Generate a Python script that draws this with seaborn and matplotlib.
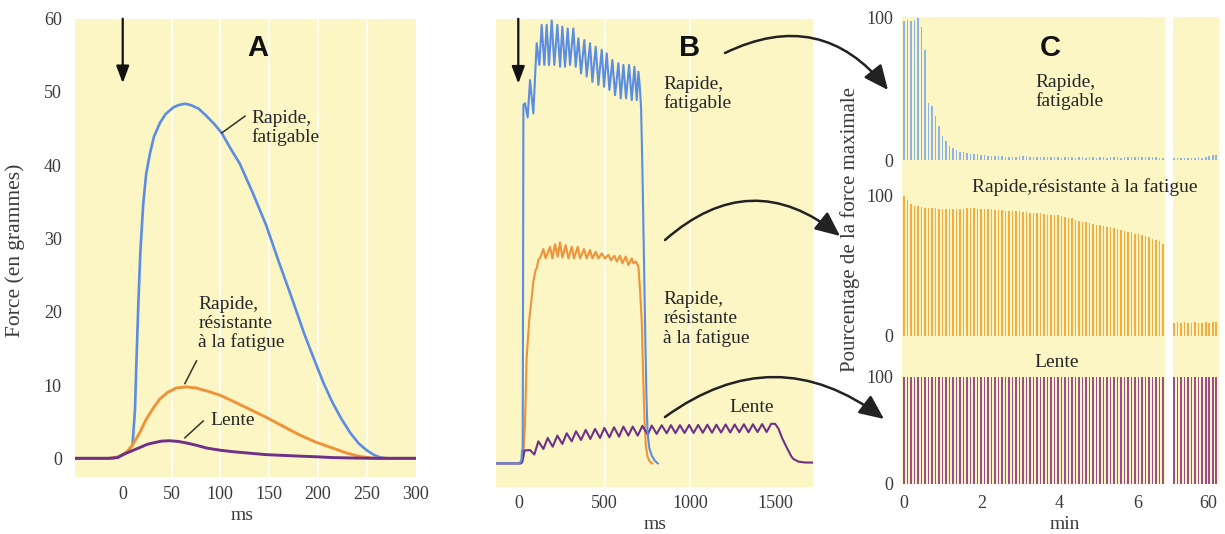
import numpy as np
import pandas as pd
import matplotlib
matplotlib.use("Agg")
import matplotlib.pyplot as plt
import seaborn as sns
from matplotlib.patches import FancyArrowPatch

# ---------------- DATA ----------------
# Panel A : single twitch, force (g) vs time (ms)
a_fat_t = [-49, -10, 0, 5, 10, 12.6, 14, 15.9, 18, 21, 24, 27.9, 32, 38.2, 44, 51.9, 57, 63.7, 70, 78,
           86, 94, 101.4, 110, 120, 133, 147, 160, 174, 186, 197, 206, 215, 224, 233, 242, 250, 257,
           263, 270, 300]
a_fat_v = [0, 0, 0.4, 0.9, 1.8, 6.7, 13, 20.7, 28, 34.7, 38.8, 41.6, 43.9, 45.8, 47, 47.9, 48.2, 48.4,
           48.2, 47.7, 46.7, 45.6, 44.4, 42.4, 40.2, 36.3, 31.8, 26.8, 21.6, 17.0, 13.2, 10.2, 7.6, 5.4,
           3.5, 2.0, 1.1, 0.5, 0.15, 0, 0]
a_res_t = [-49, -12, -5, 0, 5, 10, 17, 24, 31, 38, 46, 55, 65, 75, 86, 100, 113, 130, 147, 164, 181,
           198, 215, 230, 243, 255, 262, 300]
a_res_v = [0, 0, 0.2, 0.5, 1.0, 1.8, 3.4, 5.3, 6.8, 8.1, 9.0, 9.6, 9.75, 9.6, 9.2, 8.6, 7.8, 6.7, 5.6,
           4.4, 3.2, 2.2, 1.4, 0.7, 0.25, 0.05, 0, 0]
a_len_t = [-49, -15, -5, 0, 9, 18, 25, 31, 40, 48, 57, 65, 75, 86, 100, 113, 130, 147, 164, 181, 200,
           215, 240, 260, 300]
a_len_v = [0, 0, 0.1, 0.5, 1.0, 1.5, 1.9, 2.1, 2.35, 2.4, 2.3, 2.1, 1.8, 1.4, 1.1, 0.9, 0.7, 0.5, 0.4,
           0.3, 0.2, 0.1, 0.03, 0, 0]

# Panel B : tetanus, relative force vs time (ms)
b_fat_t = [-137, 0, 12, 16, 20, 22, 24, 33.4, 49, 62.8, 82.3, 101.8, 117.5, 131.2, 146.8, 160.5, 174.2,
           189.9, 205.5, 223.1, 238.7, 252.4, 268.1, 283.7, 297.4, 317, 330.7, 346.3, 362, 381.5,
           395.2, 414.8, 428.5, 448, 463.7, 483.3, 497, 512.6, 528.3, 545.9, 561.5, 581.1, 594.8,
           610.4, 626.1, 643.7, 659.3, 675, 688.7, 698.4, 706, 714, 722, 730, 738, 745, 752, 762,
           776, 795, 812]
b_fat_v = [0, 0, 0.6, 3, 3.2, 40, 80.6, 81, 77.8, 86.2, 78.7, 94.5, 89.6, 98.6, 89.6, 98.6, 89.6, 99.6,
           89.6, 98.6, 89.2, 98.2, 89.2, 97.8, 89.6, 97.8, 89.2, 95.6, 87.7, 95.2, 87, 94.5, 85.8,
           93.7, 85.1, 93, 84.7, 92.2, 84, 90.7, 82.8, 90, 82.1, 89.6, 82.1, 89.6, 81.7, 89.2, 81.7,
           88.1, 85, 80, 66, 48, 30, 16, 7, 3.5, 1.8, 0.6, 0]
b_res_t = [-137, 0, 18, 25, 33, 43, 58.8, 72, 82.3, 95.9, 103, 111.6, 121.4, 140.9, 154.6, 180, 193.7,
           209.4, 225, 238.7, 252.4, 272, 287.7, 307.2, 320.9, 342.4, 356.1, 379.6, 395.2, 414.8,
           428.5, 448, 463.7, 483.3, 502.8, 522.4, 538, 557.6, 571.3, 590.9, 604.6, 624.1, 639.8,
           659.3, 669.1, 682.8, 698.4, 708, 718, 726, 734, 742, 752, 765, 780]
b_res_v = [0, 0, 0.5, 3, 8.4, 23.7, 32.5, 37, 40.9, 43.5, 44, 45.8, 46.1, 48.2, 46.1, 48.7, 46.1, 49.3,
           46.5, 49.7, 46.3, 49.1, 46.1, 48.7, 46.1, 48.7, 46.1, 48.2, 46.1, 48, 46.1, 47.6, 46.1,
           47.2, 46.1, 46.9, 45.7, 46.7, 45.4, 46.7, 45, 46.5, 44.6, 46.1, 45, 45.4, 44.3, 39, 32,
           20, 10, 4, 1.5, 0.4, 0]
b_len_t = [-137, 10, 18, 24, 30, 62.8, 88.2, 111.6, 141, 166.4, 195.7, 223.1, 252.4, 277.8, 307.2,
           332.6, 361.9, 389.3, 416.6, 444, 473.3, 498.7, 528.1, 555.4, 584.8, 610.2, 639.5, 665,
           694.3, 721.7, 753, 776.4, 805.7, 835.1, 864.4, 889, 916, 942, 969, 996, 1022, 1049, 1076,
           1103, 1130, 1156, 1183, 1210, 1237, 1263, 1290, 1317, 1344, 1370, 1397, 1424, 1450, 1477,
           1500, 1520, 1539, 1560, 1578, 1595, 1607, 1637, 1676, 1724]
b_len_v = [0, 0, 0.4, 1.5, 2.9, 3.0, 2.0, 4.97, 3.24, 5.72, 3.76, 6.25, 4.37, 6.78, 4.97, 7.23, 5.27,
           7.53, 5.5, 7.75, 5.72, 7.98, 5.87, 8.13, 6.02, 8.28, 6.25, 8.28, 6.25, 8.43, 6.47, 8.51,
           6.63, 8.58, 6.78, 8.6, 6.8, 8.6, 6.85, 8.65, 6.85, 8.65, 6.9, 8.7, 6.9, 8.7, 6.95, 8.75,
           6.95, 8.75, 7.0, 8.8, 7.0, 8.8, 7.05, 8.85, 7.05, 8.9, 8.9, 7.8, 5.9, 4.2, 2.86, 1.6, 1.0,
           0.4, 0.2, 0.2]

# Panel C : % of maximal force per stimulus, first 6.7 min and around 60 min
c_fat_main = [97, 98, 97.5, 98, 99, 93, 77, 40, 38, 31,
              24, 17, 13, 10, 8.5, 7, 6, 5.5, 5, 4.5,
              4, 4, 3.5, 3.5, 3, 3, 3, 3, 3, 2.5,
              2.5, 2.5, 2.5, 3, 3, 3, 2.5, 2, 2, 2,
              2, 2, 2, 2, 2, 1.5, 2, 2, 2, 1.5,
              2, 2, 1.5, 2, 2, 1.5, 2, 2, 1.5, 2,
              2, 2, 1.5, 2, 2, 2, 2.5, 2, 2, 2.5,
              2, 2, 2, 1.5, 1.5]
c_fat_post = [1.5, 1.5, 1.5, 1.5, 1.5, 1.5, 1.5, 2, 1.5, 2, 3, 3.5, 3.5]
c_res_main = [100, 97, 94, 93, 92.5, 92, 91.5, 91, 91, 91,
              90.5, 90.5, 90.5, 90.5, 90.5, 90.5, 90.5, 90.5, 91, 91,
              91, 90.5, 90.5, 90.5, 90.5, 90.5, 90, 90, 90, 89.5,
              89.5, 89, 89, 89, 88.5, 88.5, 88, 88, 87.5, 87.5,
              87, 86.5, 86.5, 86, 86, 85.5, 85, 84.5, 84, 83,
              82, 81.5, 81, 80.5, 80, 79.5, 79, 78.5, 78, 77.5,
              77, 76, 75.5, 75, 74.5, 74, 73, 72.5, 72, 71,
              70.5, 69.5, 68.5, 67.5, 65.5]
c_res_post = [9, 9.5, 9, 9.5, 9, 9, 9.5, 9, 9, 9.5, 9, 10, 9.5]
c_len_main = [100, 100, 100, 100, 100, 100, 100, 100, 100, 100,
              100, 100, 100, 100, 100, 100, 100, 100, 100, 100,
              100, 100, 100, 100, 100, 100, 100, 100, 100, 100,
              100, 100, 100, 100, 100, 100, 100, 100, 100, 100,
              100, 100, 100, 100, 100, 100, 100, 100, 100, 100,
              100, 100, 100, 100, 100, 100, 100, 100, 100, 100,
              100, 100, 100, 100, 100, 100, 100, 100, 100, 100,
              100, 100, 100, 100, 100]
c_len_post = [100, 100, 100, 100, 100, 100, 100, 100, 100, 100, 100, 100, 100]
c_main_min = np.round(np.arange(len(c_len_main)) * 0.09, 3)        # one stimulus every ~5.4 s
c_post_min = np.round(59.12 + np.arange(len(c_len_post)) * 0.09, 3)

a_xticks = [0, 50, 100, 150, 200, 250, 300]
a_yticks = [0, 10, 20, 30, 40, 50, 60]
b_xticks = [0, 500, 1000, 1500]
c_main_ticks = [0, 2, 4, 6]
c_post_ticks = [60]

# ---------------- STYLE ----------------
plt.rcParams['font.family'] = ['Liberation Serif', 'DejaVu Serif']
YEL = "#fbf6c4"
BLUE, ORANGE, PURPLE = "#5b8de3", "#ef933a", "#6f3088"
BLUE_B, ORANGE_B, PURPLE_B = "#8db4e8", "#f3ad45", "#9b4d8c"
TXT = "#262626"
TICK = "#3a3a3a"
ANN = 14
W, H = 1225, 534
fig = plt.figure(figsize=(W / 100, H / 100), dpi=100)
fig.patch.set_facecolor("white")


def add_ax(x0, y0, x1, y1):
    return fig.add_axes([x0 / W, 1 - y1 / H, (x1 - x0) / W, (y1 - y0) / H])


def ftext(x, y, s, **kw):
    kw.setdefault("color", TXT)
    fig.text(x / W, 1 - y / H, s, **kw)


def clean(ax):
    for s in ax.spines.values():
        s.set_visible(False)
    ax.tick_params(length=0, labelsize=13, labelcolor=TICK)


# ---------------- PANEL A ----------------
axA = add_ax(75, 18.7, 415.5, 477)
axA.set_facecolor(YEL)
for gx in [50, 100, 150, 200, 250]:
    axA.axvline(gx, color="white", lw=1.6, alpha=0.75, zorder=0.5)
sns.lineplot(x=a_fat_t, y=a_fat_v, ax=axA, color=BLUE, linewidth=1.9, estimator=None, sort=False)
sns.lineplot(x=a_res_t, y=a_res_v, ax=axA, color=ORANGE, linewidth=2.1, estimator=None, sort=False)
sns.lineplot(x=a_len_t, y=a_len_v, ax=axA, color=PURPLE, linewidth=2.1, estimator=None, sort=False)
axA.set_xlim(-48.9, 300)
axA.set_ylim(-2.55, 60)
axA.set_xticks(a_xticks)
axA.set_yticks(a_yticks)
clean(axA)
axA.tick_params(axis="x", pad=6.5)
axA.tick_params(axis="y", pad=9.5)
axA.set_xlabel("")
axA.set_ylabel("")
axA.annotate("", xy=(0, 51.2), xytext=(0, 60),
             arrowprops=dict(arrowstyle="-|>,head_length=0.8,head_width=0.3", color="#111111",
                             lw=1.6, shrinkA=0, shrinkB=0, mutation_scale=13), annotation_clip=False)
for (x0, y0, x1, y1) in [(101.4, 44.4, 125.3, 46.7), (63.7, 10.2, 75.6, 13.3), (63.7, 2.8, 82.5, 5.1)]:
    axA.plot([x0, x1], [y0, y1], color="#33332a", lw=1.1)

ftext(257.3, 47.7, "A", family="Liberation Sans", weight="bold", fontsize=21, ha="center", va="center", color="#111111")
ftext(251.7, 127.8, "Rapide,\nfatigable", fontsize=ANN, ha="left", va="center", linespacing=1.1)
ftext(198.3, 323.7, "Rapide,\nrésistante\nà la fatigue", fontsize=ANN, ha="left", va="center", linespacing=1.1)
ftext(210.7, 420.8, "Lente", fontsize=ANN, ha="left", va="center")
ftext(241.7, 516, "ms", fontsize=14, ha="center", va="center", color=TICK)
ftext(15, 250, "Force (en grammes)", fontsize=15.5, ha="center", va="center", rotation=90, color=TICK)

# ---------------- PANEL B ----------------
axB = add_ax(496, 18.7, 813.3, 487.2)
axB.set_facecolor(YEL)
for gx in [500, 1000]:
    axB.axvline(gx, color="white", lw=1.6, alpha=0.75, zorder=0.5)
sns.lineplot(x=b_res_t, y=b_res_v, ax=axB, color=ORANGE, linewidth=1.5, estimator=None, sort=False)
sns.lineplot(x=b_len_t, y=b_len_v, ax=axB, color=PURPLE, linewidth=1.5, estimator=None, sort=False)
sns.lineplot(x=b_fat_t, y=b_fat_v, ax=axB, color=BLUE, linewidth=1.5, estimator=None, sort=False)
axB.set_xlim(-136.7, 1724)
axB.set_ylim(-5.35, 100)
axB.set_xticks(b_xticks)
axB.set_yticks([])
clean(axB)
axB.tick_params(axis="x", pad=5.5)
axB.set_xlabel("")
axB.set_ylabel("")
axB.annotate("", xy=(-6, 85.4), xytext=(-6, 100),
             arrowprops=dict(arrowstyle="-|>,head_length=0.8,head_width=0.3", color="#111111",
                             lw=1.6, shrinkA=0, shrinkB=0, mutation_scale=13), annotation_clip=False)
ftext(690, 47.7, "B", family="Liberation Sans", weight="bold", fontsize=21, ha="center", va="center", color="#111111")
ftext(663.3, 93.7, "Rapide,\nfatigable", fontsize=ANN, ha="left", va="center", linespacing=1.1)
ftext(663.3, 318.6, "Rapide,\nrésistante\nà la fatigue", fontsize=ANN, ha="left", va="center", linespacing=1.15)
ftext(751.7, 407.2, "Lente", fontsize=ANN, ha="center", va="center")
ftext(655, 524.7, "ms", fontsize=14, ha="center", va="center", color=TICK)

# ---------------- PANEL C ----------------
bg = add_ax(902, 17, 1219, 484)
bg.set_facecolor(YEL)
bg.set_xlim(902, 1219)
bg.set_ylim(484, 17)
bg.axvspan(1165, 1172.7, color="white", lw=0)
bg.set_xticks([])
bg.set_yticks([])
for s in bg.spines.values():
    s.set_visible(False)

rows = [(17, 160.1, c_fat_main, c_fat_post, BLUE_B),
        (195.9, 335.6, c_res_main, c_res_post, ORANGE_B),
        (376.5, 483.8, c_len_main, c_len_post, PURPLE_B)]
for r, (y0, y1, vm, vp, col) in enumerate(rows):
    axm = add_ax(902, y0, 1165, y1)
    axp = add_ax(1172.7, y0, 1219, y1)
    for ax, pos, vals, xl in [(axm, c_main_min, vm, (-0.051, 6.71)), (axp, c_post_min, vp, (59.085, 60.27))]:
        ax.set_facecolor("none")
        sns.barplot(x=pos, y=vals, ax=ax, native_scale=True, orient="x", color=col, saturation=1,
                    width=0.45, linewidth=0, errorbar=None)
        ax.set_xlim(*xl)
        ax.set_ylim(0, 100)
        clean(ax)
        ax.set_xlabel("")
        ax.set_ylabel("")
    axm.set_yticks([0, 100])
    axm.tick_params(axis="y", pad=6.3)
    axp.set_yticks([])
    if r == 2:
        axm.set_xticks(c_main_ticks)
        axp.set_xticks(c_post_ticks)
        axm.tick_params(axis="x", pad=7.9)
        axp.tick_params(axis="x", pad=7.9)
    else:
        axm.set_xticks([])
        axp.set_xticks([])

ftext(1050, 47.7, "C", family="Liberation Sans", weight="bold", fontsize=21, ha="center", va="center", color="#111111")
ftext(1035, 92, "Rapide,\nfatigable", fontsize=ANN, ha="left", va="center", linespacing=1.1)
ftext(971.7, 187.4, "Rapide,résistante à la fatigue", fontsize=ANN, ha="left", va="center")
ftext(1056.7, 362.9, "Lente", fontsize=ANN, ha="center", va="center")
ftext(1065, 524.7, "min", fontsize=14, ha="center", va="center", color=TICK)
ftext(850, 230, "Pourcentage de la force maximale", fontsize=15, ha="center", va="center", rotation=90, color=TICK)

# ---------------- CURVED ARROWS B -> C ----------------
def curved_arrow(p0, p1, rad):
    a = FancyArrowPatch((p0[0] / W, 1 - p0[1] / H), (p1[0] / W, 1 - p1[1] / H),
                        transform=fig.transFigure, connectionstyle=f"arc3,rad={rad}",
                        arrowstyle="-|>,head_length=1.0,head_width=0.45", mutation_scale=15,
                        lw=1.8, color="#222222", shrinkA=0, shrinkB=0)
    fig.add_artist(a)


curved_arrow((725, 53), (888, 90), -0.4)
curved_arrow((665, 240), (840, 236), -0.42)
curved_arrow((665, 417), (884, 419), -0.37)

fig.savefig("out.png", dpi=100)
